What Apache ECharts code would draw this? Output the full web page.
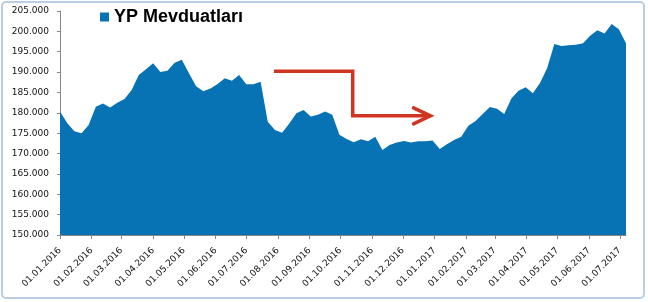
<!DOCTYPE html>
<html>
<head>
<meta charset="utf-8">
<script src="https://cdn.jsdelivr.net/npm/echarts@6/dist/echarts.min.js"></script>
<style>
html,body{margin:0;padding:0;background:#fff;}
#c{width:648px;height:302px;}
</style>
</head>
<body>
<div id="c"></div>
<script>
var SERIES_NAME = 'YP Mevduatları';
var DATES = [
'2016-01-01','2016-01-08','2016-01-15','2016-01-22','2016-01-29',
'2016-02-05','2016-02-12','2016-02-19','2016-02-26',
'2016-03-04','2016-03-11','2016-03-18','2016-03-25',
'2016-04-01','2016-04-08','2016-04-15','2016-04-22','2016-04-29',
'2016-05-06','2016-05-13','2016-05-20','2016-05-27',
'2016-06-03','2016-06-10','2016-06-17','2016-06-24',
'2016-07-01','2016-07-08','2016-07-15','2016-07-22','2016-07-29',
'2016-08-05','2016-08-12','2016-08-19','2016-08-26',
'2016-09-02','2016-09-09','2016-09-16','2016-09-23','2016-09-30',
'2016-10-07','2016-10-14','2016-10-21','2016-10-28',
'2016-11-04','2016-11-11','2016-11-18','2016-11-25',
'2016-12-02','2016-12-09','2016-12-16','2016-12-23','2016-12-30',
'2017-01-06','2017-01-13','2017-01-20','2017-01-27',
'2017-02-03','2017-02-10','2017-02-17','2017-02-24',
'2017-03-03','2017-03-10','2017-03-17','2017-03-24','2017-03-31',
'2017-04-07','2017-04-14','2017-04-21','2017-04-28',
'2017-05-05','2017-05-12','2017-05-19','2017-05-26',
'2017-06-02','2017-06-09','2017-06-16','2017-06-23','2017-06-30',
'2017-07-07'
];
var VALUES = [
180300,177500,175500,175000,177000,
181500,182300,181300,182500,
183400,185600,189300,190700,
192200,190000,190300,192300,193000,
189700,186500,185300,186000,
187100,188500,187900,189300,
187000,187000,187600,177800,175800,
175100,177400,179900,180700,
179100,179500,180300,179500,174600,
173600,172800,173500,173000,
174100,170900,172100,172700,
173100,172700,173000,173000,173200,
171100,172300,173300,174100,
176800,178000,179700,181400,
181000,179700,183500,185400,186300,
184800,187300,191000,196900,
196400,196600,196700,197100,
198900,200300,199500,201800,200500,
197100
];
var Y_MIN = 150000, Y_MAX = 205000, Y_STEP = 5000;
var X_MIN = '2016-01-01', X_MAX = '2017-07-07';
// annotation arrow path in data coordinates
var ARROW_PATH = [['2016-07-28',190200],['2016-10-13',190200],['2016-10-13',179250],['2016-12-28',179250]];

function parseDate(s){var p=s.split('-');return new Date(+p[0],+p[1]-1,+p[2]).getTime();}
function pad(n){return (n<10?'0':'')+n;}
function fmtThousands(v){return String(v).replace(/\B(?=(\d{3})+(?!\d))/g,'.');}

var chart = echarts.init(document.getElementById('c'), null, {renderer:'canvas'});
var data = DATES.map(function(d,i){return [parseDate(d), VALUES[i]];});
var FONT = 'DejaVu Sans, Verdana, sans-serif';

chart.setOption({
  animation:false,
  backgroundColor:'#ffffff',
  textStyle:{fontFamily:FONT},
  grid:{left:60,right:22,top:11,bottom:67,containLabel:false},
  legend:{
    data:[SERIES_NAME], left:95, top:3, icon:'rect', itemWidth:9, itemHeight:9, itemGap:5,
    textStyle:{fontSize:18,fontWeight:'bold',color:'#000',fontFamily:'Liberation Sans, Arial, sans-serif'}
  },
  xAxis:{
    type:'time', min:parseDate(X_MIN), max:parseDate(X_MAX),
    splitNumber:19, minInterval:27*86400000, maxInterval:31*86400000,
    axisLine:{show:true,lineStyle:{color:'#868686',width:1}},
    axisTick:{show:true,length:4,lineStyle:{color:'#868686'}},
    splitLine:{show:false},
    axisLabel:{
      rotate:45, fontSize:9, color:'#111', margin:14, showMaxLabel:false, showMinLabel:true, fontFamily:FONT,
      formatter:function(v){var d=new Date(v);return pad(d.getDate())+'.'+pad(d.getMonth()+1)+'.'+d.getFullYear();}
    }
  },
  yAxis:{
    type:'value', min:Y_MIN, max:Y_MAX, interval:Y_STEP,
    axisLine:{show:true,lineStyle:{color:'#868686',width:1}},
    axisTick:{show:true,length:3,lineStyle:{color:'#868686'}},
    splitLine:{show:false},
    axisLabel:{fontSize:9,color:'#111',margin:11,fontFamily:FONT,formatter:function(v){return fmtThousands(v);}}
  },
  series:[{
    name:SERIES_NAME, type:'line', data:data, symbol:'none', showSymbol:false,
    lineStyle:{width:0,color:'#0773b5'}, itemStyle:{color:'#0773b5'},
    areaStyle:{color:'#0773b5',opacity:1,origin:'start'}
  }]
});

var pts = ARROW_PATH.map(function(p){return chart.convertToPixel({xAxisIndex:0,yAxisIndex:0},[parseDate(p[0]),p[1]]);});
var tip = pts[pts.length-1];
chart.setOption({
  graphic:[
    {type:'rect',shape:{x:2,y:2,width:642,height:296,r:4},style:{fill:null,stroke:'#b9cde4',lineWidth:2},silent:true,z:100},
    {type:'polyline',shape:{points:pts},style:{fill:null,stroke:'#cf3520',lineWidth:3.5,lineJoin:'miter'},z:50},
    {type:'polyline',shape:{points:[[tip[0]-17,tip[1]-8],[tip[0],tip[1]],[tip[0]-17,tip[1]+8]]},style:{fill:null,stroke:'#cf3520',lineWidth:3.5,lineJoin:'miter',lineCap:'round'},z:50}
  ]
});
</script>
</body>
</html>
